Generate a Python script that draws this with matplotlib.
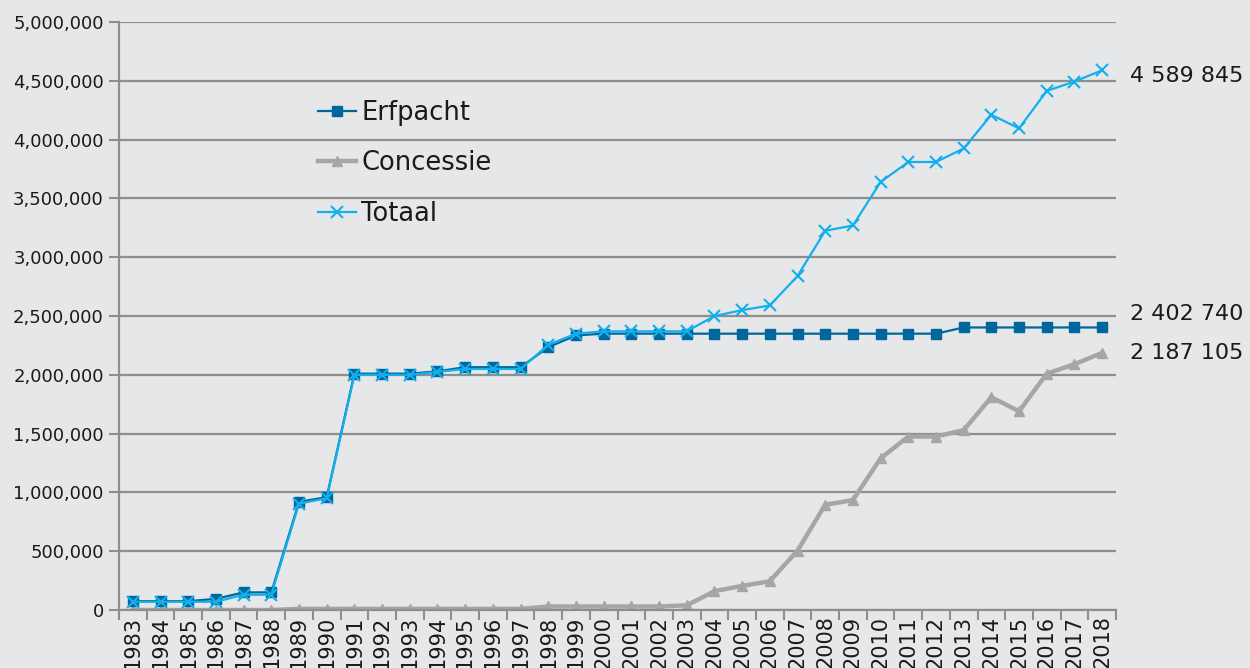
import matplotlib
matplotlib.use("Agg")
from matplotlib import pyplot as plt
from matplotlib.ticker import FuncFormatter
import numpy as np

# data
years = list(range(1983, 2019))

erfpacht = [75000, 75000, 75000, 95000, 150000, 150000, 920000, 960000,
            2010000, 2010000, 2010000, 2030000, 2065000, 2065000, 2065000,
            2235000, 2335000, 2350000, 2350000, 2350000, 2350000, 2350000,
            2350000, 2350000, 2350000, 2350000, 2350000, 2350000, 2350000,
            2350000, 2402740, 2402740, 2402740, 2402740, 2402740, 2402740]

concessie = [0, 0, 0, 0, 0, 0, 10000, 10000, 10000, 10000, 10000, 10000,
             10000, 10000, 10000, 30000, 30000, 30000, 30000, 30000, 40000,
             160000, 205000, 245000, 505000, 895000, 935000, 1290000,
             1475000, 1475000, 1530000, 1810000, 1690000, 2010000, 2090000,
             2187105]

totaal = [70000, 70000, 70000, 70000, 130000, 130000, 905000, 950000,
          2000000, 2000000, 2000000, 2025000, 2050000, 2050000, 2050000,
          2255000, 2350000, 2370000, 2370000, 2370000, 2370000, 2500000,
          2550000, 2590000, 2840000, 3225000, 3270000, 3640000, 3810000,
          3810000, 3925000, 4211000, 4096000, 4414000, 4494000, 4589845]

end_labels = ["4 589 845", "2 402 740", "2 187 105"]

plt.rcParams['font.family'] = ['DejaVu Sans']
bg = '#e6e7e9'
grid_c = '#8e8e8e'
txt_c = '#1a1a1a'

fig = plt.figure(figsize=(12.5, 6.68), dpi=100, facecolor=bg)
ax = fig.add_axes([0.0952, 0.0868, 0.7976, 0.8802])
ax.set_facecolor(bg)

x = np.arange(len(years))
ax.plot(x, erfpacht, color='#00679e', lw=1.6, marker='s', ms=7.5,
        label='Erfpacht', zorder=3)
ax.plot(x, concessie, color='#a6a6a6', lw=3.2, marker='^', ms=7,
        label='Concessie', zorder=2)
ax.plot(x, totaal, color='#12b0ec', lw=1.6, marker='x', ms=9, mew=1.5,
        label='Totaal', zorder=4)

ax.set_xlim(-0.5, len(years) - 0.5)
ax.set_ylim(0, 5000000)
ax.set_yticks(np.arange(0, 5000001, 500000))
ax.yaxis.set_major_formatter(FuncFormatter(lambda v, p: f"{int(v):,}"))
ax.grid(axis='y', color=grid_c, lw=1.6)
ax.set_axisbelow(True)

# category ticks between years, labels at centres
ax.set_xticks(np.arange(-0.5, len(years), 1.0))
ax.set_xticklabels([])
ax.set_xticks(x, minor=True)
ax.set_xticklabels([str(y) for y in years], minor=True, rotation=90,
                   fontsize=15, color=txt_c)
ax.tick_params(axis='x', which='minor', length=0, pad=4)
ax.tick_params(axis='x', which='major', length=7, color=grid_c, width=1.5)
ax.tick_params(axis='y', length=7, color=grid_c, width=1.5, labelsize=13,
               labelcolor=txt_c, pad=4)

for s in ['top', 'right']:
    ax.spines[s].set_visible(False)
for s in ['left', 'bottom']:
    ax.spines[s].set_color(grid_c)
    ax.spines[s].set_linewidth(1.6)

# end labels
ax.annotate(end_labels[0], xy=(1.0, totaal[-1]), xycoords=('axes fraction', 'data'),
            xytext=(10, -4), textcoords='offset points', fontsize=16, va='center',
            color=txt_c)
ax.annotate(end_labels[1], xy=(1.0, erfpacht[-1]), xycoords=('axes fraction', 'data'),
            xytext=(10, 10), textcoords='offset points', fontsize=16, va='center',
            color=txt_c)
ax.annotate(end_labels[2], xy=(1.0, concessie[-1]), xycoords=('axes fraction', 'data'),
            xytext=(10, 0), textcoords='offset points', fontsize=16, va='center',
            color=txt_c)

leg = ax.legend(loc='upper left', bbox_to_anchor=(0.176, 0.907), frameon=False,
                fontsize=18.5, handlelength=1.5, handletextpad=0.2,
                labelspacing=0.95)
for t in leg.get_texts():
    t.set_color(txt_c)

fig.savefig("out.png", dpi=100, facecolor=bg)
